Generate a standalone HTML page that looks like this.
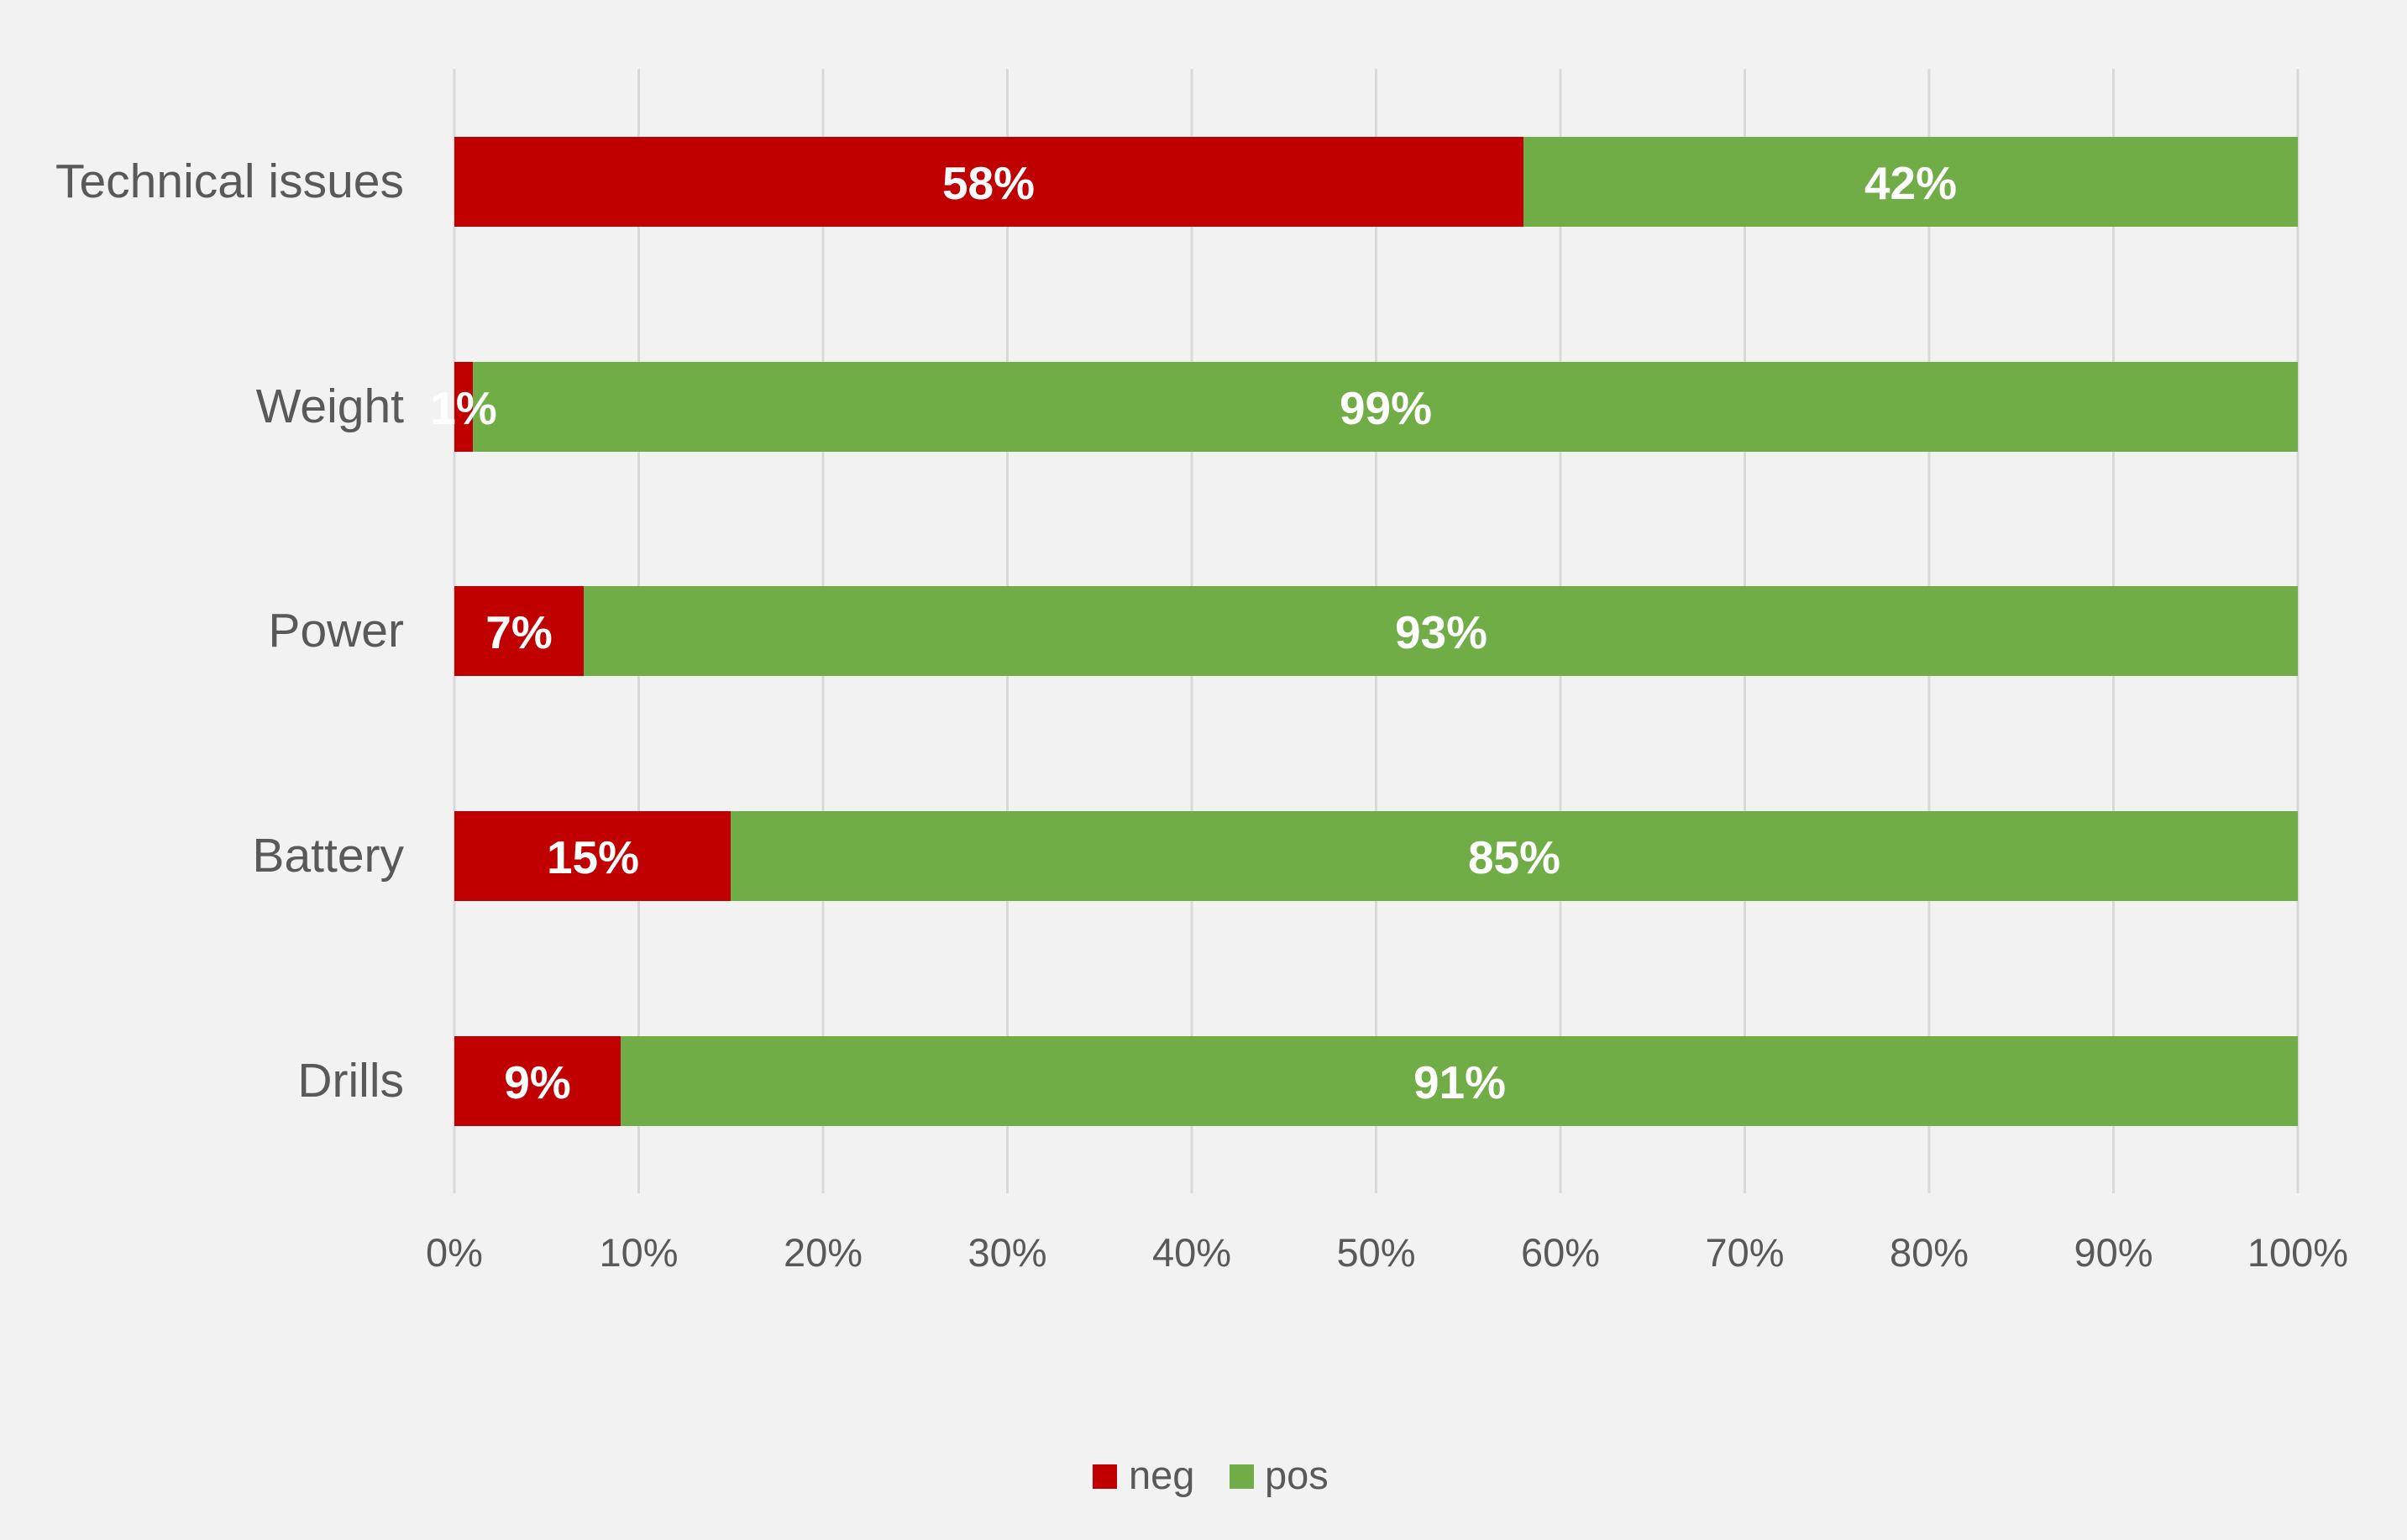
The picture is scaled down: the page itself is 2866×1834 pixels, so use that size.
<!DOCTYPE html>
<html><head><meta charset="utf-8"><style>html,body{margin:0;padding:0;background:#f2f2f2}svg{display:block}</style></head>
<body>
<svg width="2866" height="1834" xmlns="http://www.w3.org/2000/svg" font-family="'Liberation Sans', sans-serif">
<rect width="2866" height="1834" fill="#f2f2f2"/>
<g stroke="#d9d9d9" stroke-width="3">
<line x1="541" y1="82" x2="541" y2="1421"/><line x1="760.5" y1="82" x2="760.5" y2="1421"/><line x1="980" y1="82" x2="980" y2="1421"/><line x1="1199.5" y1="82" x2="1199.5" y2="1421"/><line x1="1419" y1="82" x2="1419" y2="1421"/><line x1="1638.5" y1="82" x2="1638.5" y2="1421"/><line x1="1858" y1="82" x2="1858" y2="1421"/><line x1="2077.5" y1="82" x2="2077.5" y2="1421"/><line x1="2297" y1="82" x2="2297" y2="1421"/><line x1="2516.5" y1="82" x2="2516.5" y2="1421"/><line x1="2736" y1="82" x2="2736" y2="1421"/>
</g>
<g>
<rect x="541" y="163" width="1273" height="107" fill="#c00000"/><rect x="1814" y="163" width="922" height="107" fill="#70ad47"/>
<rect x="541" y="431" width="22" height="107" fill="#c00000"/><rect x="563" y="431" width="2173" height="107" fill="#70ad47"/>
<rect x="541" y="698" width="154" height="107" fill="#c00000"/><rect x="695" y="698" width="2041" height="107" fill="#70ad47"/>
<rect x="541" y="966" width="329" height="107" fill="#c00000"/><rect x="870" y="966" width="1866" height="107" fill="#70ad47"/>
<rect x="541" y="1234" width="198" height="107" fill="#c00000"/><rect x="739" y="1234" width="1997" height="107" fill="#70ad47"/>
</g>
<g fill="#ffffff" font-weight="bold" font-size="55" text-anchor="middle">
<text x="1177" y="237">58%</text><text x="2275" y="237">42%</text>
<text x="552" y="505">1%</text><text x="1650" y="505">99%</text>
<text x="618" y="772">7%</text><text x="1716" y="772">93%</text>
<text x="706" y="1040">15%</text><text x="1803" y="1040">85%</text>
<text x="640" y="1308">9%</text><text x="1738" y="1308">91%</text>
</g>
<g fill="#595959" font-size="57" text-anchor="end">
<text x="481" y="235">Technical issues</text>
<text x="481" y="503">Weight</text>
<text x="481" y="770">Power</text>
<text x="481" y="1038">Battery</text>
<text x="481" y="1306">Drills</text>
</g>
<g fill="#595959" font-size="47" text-anchor="middle">
<text x="541" y="1508">0%</text><text x="760.5" y="1508">10%</text><text x="980" y="1508">20%</text><text x="1199.5" y="1508">30%</text><text x="1419" y="1508">40%</text><text x="1638.5" y="1508">50%</text><text x="1858" y="1508">60%</text><text x="2077.5" y="1508">70%</text><text x="2297" y="1508">80%</text><text x="2516.5" y="1508">90%</text><text x="2736" y="1508">100%</text>
</g>
<rect x="1301" y="1744" width="29" height="29" fill="#c00000"/>
<rect x="1464" y="1744" width="29" height="29" fill="#70ad47"/>
<g fill="#595959" font-size="47">
<text x="1344" y="1773">neg</text><text x="1506" y="1773">pos</text>
</g>
</svg>
</body></html>
